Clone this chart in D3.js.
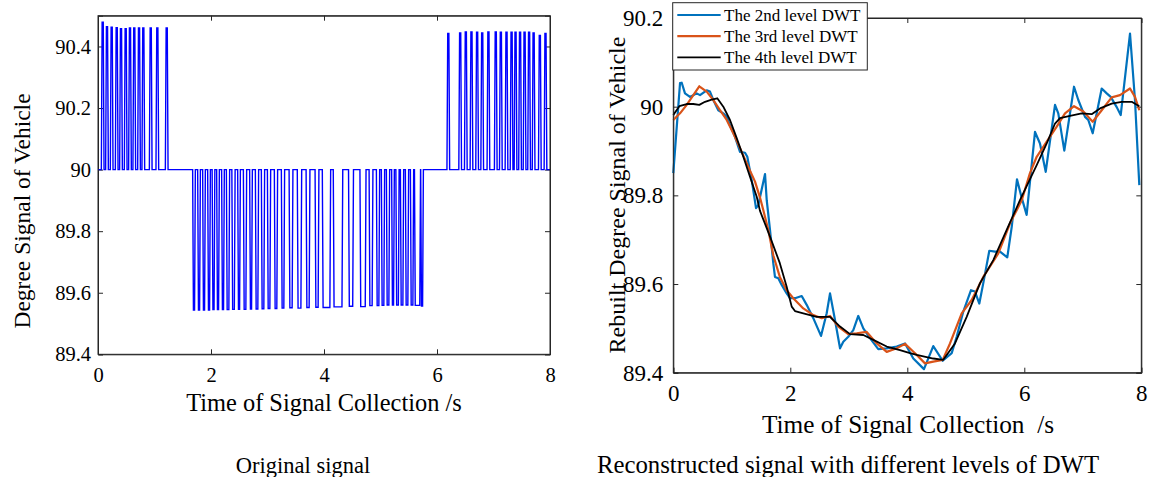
<!DOCTYPE html>
<html>
<head>
<meta charset="utf-8">
<script src="https://cdn.jsdelivr.net/npm/d3@7"></script>
<style>
  html, body { margin: 0; padding: 0; background: #ffffff; }
  svg { display: block; }
  text { font-family: "Liberation Serif", "Times New Roman", serif; fill: #000; }
</style>
</head>
<body>
<svg id="chart" width="1153" height="477"></svg>
<script>
// ---------------- DATA ----------------
// Left panel: original signal (baseline 90, pulses)
const baseline = 90;
const upPulseTimesA  = [0.083, 0.159, 0.242, 0.331, 0.407, 0.490, 0.566, 0.642, 0.726, 0.802, 0.933, 1.050, 1.216];
const upPulseValuesA = [90.479, 90.464, 90.463, 90.461, 90.458, 90.458, 90.460, 90.460, 90.460, 90.460, 90.460, 90.460, 90.460];

const dipTimes  = [1.699, 1.788, 1.876, 1.965, 2.044, 2.124, 2.212, 2.301, 2.398, 2.496, 2.602, 2.708, 2.814, 2.920,
                   3.027, 3.150, 3.274, 3.416, 3.566, 3.717, 3.876, 4.044, 4.248, 4.478, 4.690, 4.832, 4.956, 5.044,
                   5.133, 5.221, 5.301, 5.381, 5.469, 5.558, 5.655, 5.735];
const dipValues = [89.544, 89.544, 89.544, 89.544, 89.545, 89.545, 89.545, 89.545, 89.546, 89.546, 89.546, 89.547, 89.547, 89.548,
                   89.549, 89.549, 89.550, 89.551, 89.550, 89.552, 89.553, 89.552, 89.554, 89.556, 89.555, 89.558, 89.558, 89.559,
                   89.560, 89.560, 89.560, 89.560, 89.560, 89.560, 89.559, 89.557];
const dipWidths = [0.02, 0.02, 0.02, 0.02, 0.02, 0.02, 0.02, 0.03, 0.03, 0.02, 0.03, 0.02, 0.03, 0.03,
                   0.03, 0.03, 0.03, 0.04, 0.05, 0.04, 0.04, 0.12, 0.14, 0.06, 0.08, 0.04, 0.03, 0.03,
                   0.03, 0.02, 0.03, 0.03, 0.03, 0.03, 0.08, 0.02];

const upPulseTimesC  = [6.20, 6.41, 6.51, 6.61, 6.71, 6.80, 6.91, 7.04, 7.13, 7.23, 7.32, 7.39, 7.47, 7.55, 7.63, 7.71, 7.82, 7.92];
const upPulseValuesC = [90.442, 90.444, 90.447, 90.447, 90.446, 90.444, 90.447, 90.447, 90.446, 90.446, 90.446, 90.446, 90.446, 90.446, 90.446, 90.444, 90.436, 90.442];

// Right panel: reconstructed signals
const dwt2Times  = [0.00, 0.115, 0.144, 0.20, 0.285, 0.40, 0.456, 0.571, 0.627, 0.684, 0.769, 0.855, 0.913, 0.969, 1.055, 1.140,
                    1.226, 1.265, 1.340, 1.414, 1.453, 1.568, 1.597, 1.653, 1.709, 1.738, 1.795, 1.853, 1.938, 1.995, 2.080,
                    2.195, 2.280, 2.393, 2.525, 2.622, 2.679, 2.764, 2.850, 2.906, 2.991, 3.077, 3.162, 3.248, 3.362, 3.504,
                    3.648, 3.819, 3.961, 4.103, 4.285, 4.444, 4.605, 4.759, 4.844, 4.957, 5.089, 5.157, 5.231, 5.299, 5.402,
                    5.499, 5.585, 5.709, 5.785, 5.875, 5.944, 6.040, 6.183, 6.268, 6.366, 6.525, 6.581, 6.684, 6.850, 6.923,
                    7.038, 7.094, 7.169, 7.323, 7.409, 7.477, 7.580, 7.648, 7.807, 7.892, 7.966];
const dwt2Values = [89.850, 90.053, 90.054, 90.030, 90.022, 90.030, 90.026, 90.037, 90.034, 90.015, 89.992, 89.985, 89.977, 89.958, 89.932, 89.898,
                    89.896, 89.887, 89.835, 89.771, 89.778, 89.848, 89.789, 89.722, 89.647, 89.616, 89.613, 89.598, 89.579, 89.568, 89.568,
                    89.573, 89.553, 89.523, 89.483, 89.534, 89.579, 89.519, 89.455, 89.470, 89.481, 89.496, 89.528, 89.500, 89.478, 89.453,
                    89.455, 89.459, 89.466, 89.432, 89.408, 89.460, 89.427, 89.444, 89.481, 89.538, 89.586, 89.583, 89.556, 89.602, 89.675,
                    89.673, 89.673, 89.660, 89.729, 89.836, 89.800, 89.756, 89.943, 89.917, 89.853, 90.004, 89.985, 89.901, 90.045, 90.015,
                    89.977, 89.970, 89.940, 90.041, 90.030, 90.022, 89.999, 89.981, 90.165, 90.015, 89.823];

const dwt3Times  = [0.00, 0.115, 0.229, 0.342, 0.444, 0.571, 0.684, 0.798, 0.913, 1.026, 1.169, 1.282, 1.397, 1.482, 1.538, 1.624,
                    1.709, 1.821, 1.938, 2.051, 2.222, 2.393, 2.537, 2.679, 2.821, 2.991, 3.135, 3.306, 3.477, 3.648, 3.819,
                    3.961, 4.132, 4.303, 4.444, 4.605, 4.730, 4.930, 5.101, 5.299, 5.556, 5.756, 5.956, 6.097, 6.212, 6.383,
                    6.554, 6.696, 6.850, 7.009, 7.169, 7.323, 7.494, 7.636, 7.807, 7.892, 7.966];
const dwt3Values = [89.970, 89.985, 90.004, 90.026, 90.046, 90.034, 90.015, 89.992, 89.970, 89.940, 89.898, 89.864, 89.831, 89.795, 89.767, 89.722,
                    89.665, 89.616, 89.586, 89.568, 89.545, 89.530, 89.523, 89.528, 89.504, 89.487, 89.489, 89.492, 89.466, 89.447, 89.455,
                    89.465, 89.444, 89.421, 89.425, 89.429, 89.466, 89.534, 89.564, 89.616, 89.669, 89.737, 89.789, 89.850, 89.887, 89.921,
                    89.955, 89.985, 90.001, 89.989, 89.966, 89.992, 90.021, 90.026, 90.041, 90.022, 89.992];

const dwt4Times  = [0.00, 0.103, 0.229, 0.342, 0.444, 0.542, 0.656, 0.752, 0.855, 0.969, 1.084, 1.197, 1.311, 1.426, 1.482, 1.653,
                    1.821, 1.938, 2.024, 2.080, 2.222, 2.451, 2.679, 2.850, 3.021, 3.248, 3.419, 3.648, 3.875, 4.046, 4.161,
                    4.444, 4.615, 4.815, 5.015, 5.243, 5.470, 5.699, 5.926, 6.212, 6.383, 6.525, 6.610, 6.781, 6.981, 7.152,
                    7.294, 7.494, 7.665, 7.836, 7.966];
const dwt4Values = [89.981, 90.001, 90.006, 90.006, 90.004, 90.011, 90.016, 90.019, 90.000, 89.970, 89.929, 89.887, 89.842, 89.797, 89.765, 89.707,
                    89.647, 89.594, 89.549, 89.539, 89.534, 89.526, 89.526, 89.504, 89.487, 89.485, 89.474, 89.459, 89.451, 89.444, 89.440,
                    89.432, 89.429, 89.466, 89.526, 89.602, 89.654, 89.722, 89.789, 89.868, 89.917, 89.962, 89.974, 89.979, 89.985, 89.983,
                    89.996, 90.007, 90.011, 90.011, 90.001];

const xTicks = [0, 2, 4, 6, 8];
const leftYTicks = [89.4, 89.6, 89.8, 90, 90.2, 90.4];
const rightYTicks = [89.4, 89.6, 89.8, 90, 90.2];
const legendLabels = ["The 2nd level DWT", "The 3rd level DWT", "The 4th level DWT"];
const seriesColors = ["#0072BD", "#D95319", "#000000"];

// ---------------- DRAWING ----------------
const svg = d3.select("#chart");
const axisColor = "#262626";
const serif = "'Liberation Serif', 'Times New Roman', serif";
const fmt = d => (d === 90 ? "90" : d3.format(".1f")(d));

function drawAxes(g, x, y, yTicks, tickFont, xPad, yPad) {
  const [x0, x1] = x.range();
  const [y0, y1] = y.range(); // y0 bottom, y1 top
  g.append("rect").attr("x", x0).attr("y", y1).attr("width", x1 - x0).attr("height", y0 - y1)
    .attr("fill", "#fff");
  const bottom = g.append("g").attr("transform", `translate(0,${y0})`)
    .call(d3.axisBottom(x).tickValues(xTicks).tickSize(-5).tickPadding(xPad).tickFormat(d3.format("d")));
  const top = g.append("g").attr("transform", `translate(0,${y1})`)
    .call(d3.axisTop(x).tickValues(xTicks).tickSize(-5).tickFormat(""));
  const left = g.append("g").attr("transform", `translate(${x0},0)`)
    .call(d3.axisLeft(y).tickValues(yTicks).tickSize(-5).tickPadding(yPad).tickFormat(fmt));
  const right = g.append("g").attr("transform", `translate(${x1},0)`)
    .call(d3.axisRight(y).tickValues(yTicks).tickSize(-5).tickFormat(""));
  [bottom, top, left, right].forEach(a => {
    a.attr("font-family", null);
    a.select(".domain").attr("stroke", axisColor).attr("stroke-width", 1);
    a.selectAll(".tick line").attr("stroke", axisColor).attr("stroke-width", 1);
    a.selectAll("text").style("font-family", serif).style("font-size", tickFont).attr("fill", "#000");
  });
  return {bottom, left};
}

// ---- Left panel ----
const xL = d3.scaleLinear().domain([0, 8]).range([98, 550]);
const yL = d3.scaleLinear().domain([89.4, 90.5]).range([354.3, 15.7]);
const gL = svg.append("g");

// build original signal points from pulse data
const pulses = [];
upPulseTimesA.forEach((t, i) => pulses.push({t, v: upPulseValuesA[i], w: 0.02}));
dipTimes.forEach((t, i) => pulses.push({t, v: dipValues[i], w: dipWidths[i]}));
upPulseTimesC.forEach((t, i) => pulses.push({t, v: upPulseValuesC[i], w: 0.02}));
pulses.sort((a, b) => a.t - b.t);
const edge = 0.014;
const origPts = [[0, baseline]];
pulses.forEach(p => {
  origPts.push([p.t - p.w / 2 - edge, baseline]);
  origPts.push([p.t - p.w / 2, p.v]);
  origPts.push([p.t + p.w / 2, p.v]);
  origPts.push([p.t + p.w / 2 + edge, baseline]);
});
origPts.push([8, baseline]);

drawAxes(gL, xL, yL, leftYTicks, "20.5px", 13, 7);
gL.append("path").datum(origPts)
  .attr("fill", "none").attr("stroke", "#0000FF").attr("stroke-width", 1.4).attr("stroke-linejoin", "miter")
  .attr("d", d3.line().x(d => xL(d[0])).y(d => yL(d[1])));
gL.append("rect").attr("x", 98).attr("y", 15.7).attr("width", 452).attr("height", 338.6)
  .attr("fill", "none").attr("stroke", axisColor).attr("stroke-width", 1);

gL.append("text").attr("x", 324).attr("y", 411).attr("text-anchor", "middle").style("font-size", "24.4px")
  .text("Time of Signal Collection /s");
gL.append("text").attr("transform", "translate(30,211) rotate(-90)").attr("text-anchor", "middle").style("font-size", "23.5px")
  .text("Degree Signal of Vehicle");
gL.append("text").attr("x", 303).attr("y", 473).attr("text-anchor", "middle").style("font-size", "22.5px")
  .text("Original signal");

// ---- Right panel ----
const xR = d3.scaleLinear().domain([0, 8]).range([673.3, 1141.3]);
const yR = d3.scaleLinear().domain([89.4, 90.2]).range([372.7, 18]);
const gR = svg.append("g");
drawAxes(gR, xR, yR, rightYTicks, "23px", 12, 10);

const series = [
  {times: dwt2Times, values: dwt2Values, width: 2.2},
  {times: dwt3Times, values: dwt3Values, width: 2.2},
  {times: dwt4Times, values: dwt4Values, width: 1.8}
];
const lineR = d3.line().x(d => xR(d[0])).y(d => yR(d[1]));
series.forEach((s, i) => {
  gR.append("path").datum(s.times.map((t, j) => [t, s.values[j]]))
    .attr("fill", "none").attr("stroke", seriesColors[i]).attr("stroke-width", s.width)
    .attr("stroke-linejoin", "round").attr("d", lineR);
});
gR.append("rect").attr("x", 673.3).attr("y", 18).attr("width", 468).attr("height", 354.7)
  .attr("fill", "none").attr("stroke", axisColor).attr("stroke-width", 1);

// legend
const leg = gR.append("g");
leg.append("rect").attr("x", 672.7).attr("y", 2.7).attr("width", 194.6).attr("height", 67.3)
  .attr("fill", "#fff").attr("stroke", axisColor).attr("stroke-width", 1);
legendLabels.forEach((lab, i) => {
  const yy = 15 + i * 21.2;
  leg.append("line").attr("x1", 677.3).attr("x2", 720.7).attr("y1", yy).attr("y2", yy)
    .attr("stroke", seriesColors[i]).attr("stroke-width", series[i].width);
  leg.append("text").attr("x", 724).attr("y", yy + 5.5).style("font-size", "17px").text(lab);
});

gR.append("text").attr("x", 908).attr("y", 433).attr("text-anchor", "middle").style("font-size", "25.3px")
  .style("white-space", "pre")
  .text("Time of Signal Collection  /s");
gR.append("text").attr("transform", "translate(625,195) rotate(-90)").attr("text-anchor", "middle").style("font-size", "24px")
  .text("Rebuilt Degree Signal of Vehicle");
gR.append("text").attr("x", 848).attr("y", 473).attr("text-anchor", "middle").style("font-size", "24.8px")
  .text("Reconstructed signal with different levels of DWT");
</script>
</body>
</html>
